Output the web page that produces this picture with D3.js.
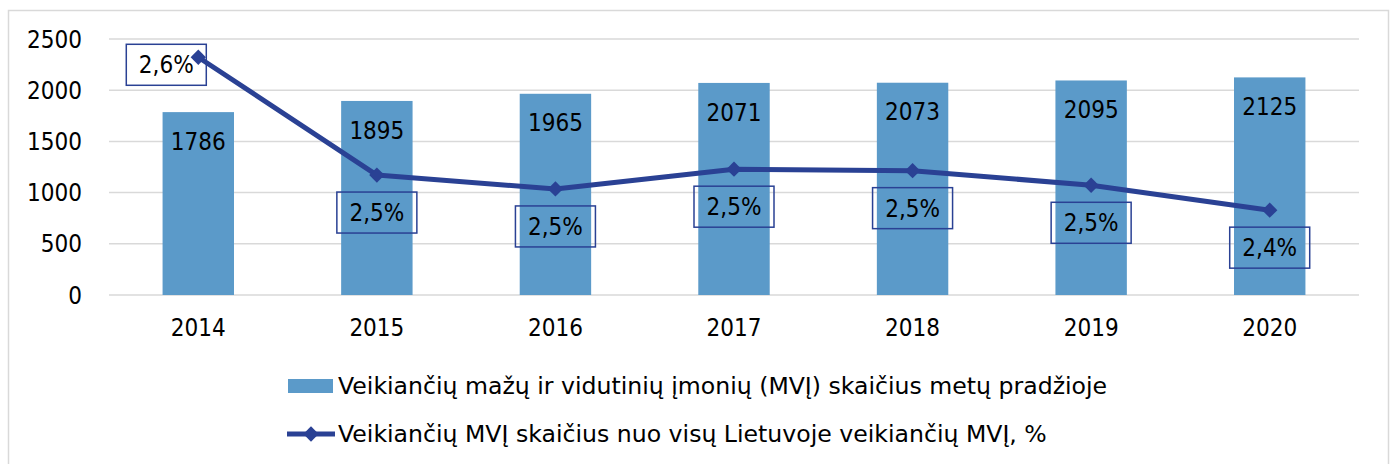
<!DOCTYPE html>
<html>
<head>
<meta charset="utf-8">
<script src="https://cdn.jsdelivr.net/npm/d3@7"></script>
<style>
  body { margin: 0; background: #fff; }
  svg text { font-family: "DejaVu Sans Condensed", "DejaVu Sans", sans-serif; font-stretch: condensed; fill: #000; }
  svg text.legend { font-family: "DejaVu Sans", sans-serif; font-stretch: normal; }
</style>
</head>
<body>
<script>
const years = ["2014", "2015", "2016", "2017", "2018", "2019", "2020"];
const smeCount = [1786, 1895, 1965, 2071, 2073, 2095, 2125];
const smeShare = [2.625, 2.464, 2.445, 2.472, 2.47, 2.45, 2.416];
const shareLabels = ["2,6%", "2,5%", "2,5%", "2,5%", "2,5%", "2,5%", "2,4%"];
const yTicks = [0, 500, 1000, 1500, 2000, 2500];
const legendNames = [
  "Veikiančių mažų ir vidutinių įmonių (MVĮ) skaičius metų pradžioje",
  "Veikiančių MVĮ skaičius nuo visų Lietuvoje veikiančių MVĮ, %"
];

const width = 1391, height = 464;
const barColor = "#5b9ac9", lineColor = "#2a4194", gridColor = "#d9d9d9";
const fontSize = 24;

const svg = d3.select("body").append("svg")
  .attr("width", width)
  .attr("height", height);

// outer chart border
svg.append("rect")
  .attr("x", 8.5).attr("y", 10.5)
  .attr("width", 1380).attr("height", 470)
  .attr("fill", "none")
  .attr("stroke", gridColor)
  .attr("stroke-width", 1.5);

const plot = {left: 109, right: 1359, top: 39, bottom: 295};

const x = d3.scaleBand().domain(years).range([plot.left, plot.right]).padding(0);
const y = d3.scaleLinear().domain([0, 2500]).range([plot.bottom, plot.top]);
// hidden secondary axis for the share line
const y2 = d3.scaleLinear().domain([2.3, 2.65]).range([plot.bottom, plot.top]);

const barW = x.bandwidth() * 0.4;

// gridlines
svg.append("g")
  .selectAll("line")
  .data(yTicks)
  .join("line")
  .attr("x1", plot.left).attr("x2", plot.right)
  .attr("y1", d => y(d)).attr("y2", d => y(d))
  .attr("stroke", gridColor)
  .attr("stroke-width", 1.5);

// y axis labels
svg.append("g")
  .selectAll("text")
  .data(yTicks)
  .join("text")
  .attr("x", 82)
  .attr("y", d => y(d))
  .attr("dy", "0.36em")
  .attr("text-anchor", "end")
  .attr("font-size", fontSize)
  .text(d => d);

// x axis labels
svg.append("g")
  .selectAll("text")
  .data(years)
  .join("text")
  .attr("x", d => x(d) + x.bandwidth() / 2)
  .attr("y", 327)
  .attr("dy", "0.36em")
  .attr("text-anchor", "middle")
  .attr("font-size", fontSize)
  .text(d => d);

// bars
const bars = svg.append("g")
  .selectAll("g")
  .data(years.map((yr, i) => ({yr, v: smeCount[i]})))
  .join("g");

bars.append("rect")
  .attr("x", d => x(d.yr) + (x.bandwidth() - barW) / 2)
  .attr("y", d => y(d.v))
  .attr("width", barW)
  .attr("height", d => y(0) - y(d.v))
  .attr("fill", barColor);

bars.append("text")
  .attr("x", d => x(d.yr) + x.bandwidth() / 2)
  .attr("y", d => y(d.v) + 29)
  .attr("dy", "0.36em")
  .attr("text-anchor", "middle")
  .attr("font-size", fontSize)
  .text(d => d.v);

// share line
const pts = years.map((yr, i) => ({yr, v: smeShare[i], lab: shareLabels[i], i}));
const line = d3.line()
  .x(d => x(d.yr) + x.bandwidth() / 2)
  .y(d => y2(d.v));

svg.append("path")
  .datum(pts)
  .attr("d", line)
  .attr("fill", "none")
  .attr("stroke", lineColor)
  .attr("stroke-width", 5)
  .attr("stroke-linejoin", "round");

const diamond = d3.symbol().type(d3.symbolDiamond2).size(150);
svg.append("g")
  .selectAll("path")
  .data(pts)
  .join("path")
  .attr("d", diamond)
  .attr("transform", d => `translate(${x(d.yr) + x.bandwidth() / 2},${y2(d.v)})`)
  .attr("fill", lineColor);

// data label boxes
const boxW = 80, boxH = 41;
const labels = svg.append("g")
  .selectAll("g")
  .data(pts)
  .join("g")
  .attr("transform", d => {
    const cx = x(d.yr) + x.bandwidth() / 2, cy = y2(d.v);
    if (d.i === 0) return `translate(${cx - 72},${cy - 13})`;
    return `translate(${cx - boxW / 2},${cy + 17})`;
  });

labels.append("rect")
  .attr("width", boxW).attr("height", boxH)
  .attr("fill", "none")
  .attr("stroke", lineColor)
  .attr("stroke-width", 1.5);

labels.append("text")
  .attr("x", boxW / 2)
  .attr("y", boxH / 2)
  .attr("dy", "0.36em")
  .attr("text-anchor", "middle")
  .attr("font-size", fontSize)
  .text(d => d.lab);

// legend
const lg = svg.append("g");
lg.append("rect")
  .attr("x", 288).attr("y", 379)
  .attr("width", 45).attr("height", 14)
  .attr("fill", barColor);
lg.append("text")
  .attr("class", "legend")
  .attr("x", 338).attr("y", 386)
  .attr("dy", "0.36em")
  .attr("font-size", 23.6)
  .text(legendNames[0]);

lg.append("line")
  .attr("x1", 287).attr("x2", 335)
  .attr("y1", 434).attr("y2", 434)
  .attr("stroke", lineColor)
  .attr("stroke-width", 5);
lg.append("path")
  .attr("d", diamond)
  .attr("transform", "translate(311,434)")
  .attr("fill", lineColor);
lg.append("text")
  .attr("class", "legend")
  .attr("x", 338).attr("y", 434)
  .attr("dy", "0.36em")
  .attr("font-size", 23.6)
  .text(legendNames[1]);
</script>
</body>
</html>
